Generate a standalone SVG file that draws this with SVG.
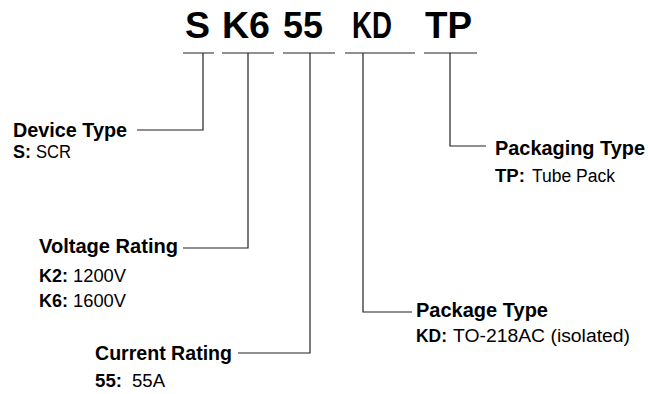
<svg xmlns="http://www.w3.org/2000/svg" width="648" height="394" viewBox="0 0 648 394">
<style>
text{font-family:"Liberation Sans","Arial",sans-serif;fill:#000}
.big{font-size:37px;font-weight:bold}
.h{font-size:21px;font-weight:bold}
.b{font-size:18px;font-weight:bold}
.r{font-size:18px}
.ln{fill:none;stroke:#222;stroke-width:1.2}
</style>
<rect width="648" height="394" fill="#fff"/>
<g id="part-number">
<text class="big" x="185" y="38" textLength="25" lengthAdjust="spacingAndGlyphs">S</text>
<text class="big" x="222" y="38" textLength="48" lengthAdjust="spacingAndGlyphs">K6</text>
<text class="big" x="283" y="38" textLength="40" lengthAdjust="spacingAndGlyphs">55</text>
<text class="big" x="352" y="38" textLength="40" lengthAdjust="spacingAndGlyphs">KD</text>
<text class="big" x="425" y="38" textLength="47" lengthAdjust="spacingAndGlyphs">TP</text>
</g>
<g id="connectors">
<path class="ln" d="M183 53H214M222 53H274M283 53H335M345 53H415M424 53H477"/>
<path class="ln" d="M203 53V130H137"/>
<path class="ln" d="M248 53V248H183"/>
<path class="ln" d="M310 53V353H238"/>
<path class="ln" d="M363 53V312H412"/>
<path class="ln" d="M450 53V146H486"/>
</g>
<g id="device-type">
<text class="h" x="13" y="137" textLength="114" lengthAdjust="spacingAndGlyphs">Device Type</text>
<text class="b" x="13" y="158" textLength="18" lengthAdjust="spacingAndGlyphs">S:</text>
<text class="r" x="36" y="158" textLength="35" lengthAdjust="spacingAndGlyphs">SCR</text>
</g>
<g id="voltage-rating">
<text class="h" x="39" y="253" textLength="139" lengthAdjust="spacingAndGlyphs">Voltage Rating</text>
<text class="b" x="39" y="282" textLength="29" lengthAdjust="spacingAndGlyphs">K2:</text>
<text class="r" x="73" y="282" textLength="53" lengthAdjust="spacingAndGlyphs">1200V</text>
<text class="b" x="39" y="307" textLength="29" lengthAdjust="spacingAndGlyphs">K6:</text>
<text class="r" x="73" y="307" textLength="53" lengthAdjust="spacingAndGlyphs">1600V</text>
</g>
<g id="current-rating">
<text class="h" x="95" y="360" textLength="137" lengthAdjust="spacingAndGlyphs">Current Rating</text>
<text class="b" x="95" y="387" textLength="27" lengthAdjust="spacingAndGlyphs">55:</text>
<text class="r" x="132" y="387" textLength="33" lengthAdjust="spacingAndGlyphs">55A</text>
</g>
<g id="package-type">
<text class="h" x="416" y="317" textLength="132" lengthAdjust="spacingAndGlyphs">Package Type</text>
<text class="b" x="416" y="342" textLength="31" lengthAdjust="spacingAndGlyphs">KD:</text>
<text class="r" x="453" y="342" textLength="177" lengthAdjust="spacingAndGlyphs">TO-218AC (isolated)</text>
</g>
<g id="packaging-type">
<text class="h" style="font-size:19.5px" transform="translate(495,155) scale(1,1.077)" x="0" y="0" textLength="150" lengthAdjust="spacingAndGlyphs">Packaging Type</text>
<text class="b" x="495" y="182" textLength="30" lengthAdjust="spacingAndGlyphs">TP:</text>
<text class="r" x="532" y="182" textLength="83" lengthAdjust="spacingAndGlyphs">Tube Pack</text>
</g>
</svg>
